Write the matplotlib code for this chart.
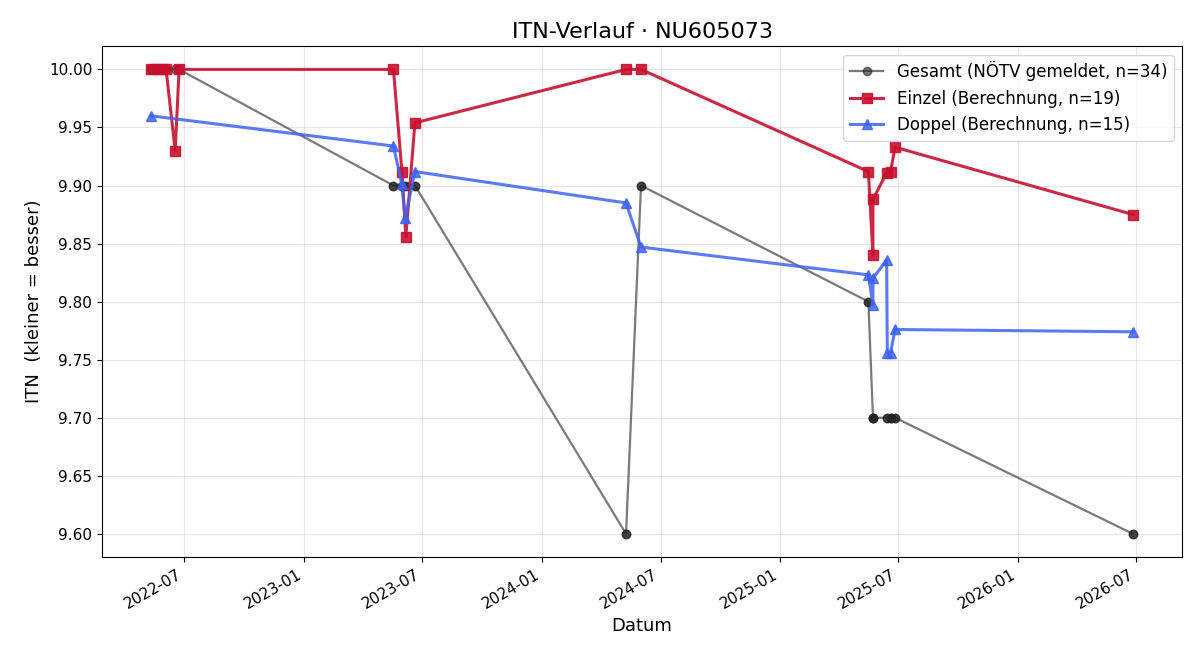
#!/usr/bin/env python3
import pandas as pd
import matplotlib
matplotlib.use("Agg")
import matplotlib.pyplot as plt
import matplotlib.dates as mdates

# Gesamt (NÖTV gemeldet) – alle Spieltermine
gesamt_dates = [
    "2022-05-11", "2022-05-11", "2022-05-19", "2022-05-27", "2022-06-03", "2022-06-17", "2022-06-23",
    "2023-05-18", "2023-05-18", "2023-05-31", "2023-05-31", "2023-06-05", "2023-06-06", "2023-06-20", "2023-06-20",
    "2024-05-09", "2024-05-09", "2024-06-01", "2024-06-01",
    "2025-05-16", "2025-05-16", "2025-05-23", "2025-05-23", "2025-05-23", "2025-05-23",
    "2025-06-13", "2025-06-14", "2025-06-19", "2025-06-19", "2025-06-26", "2025-06-26",
    "2025-06-19",
    "2026-06-26", "2026-06-26",
]
gesamt_itn = [
    10.0, 10.0, 10.0, 10.0, 10.0, 10.0, 10.0,
    9.90, 9.90, 9.90, 9.90, 9.90, 9.90, 9.90, 9.90,
    9.60, 9.60, 9.90, 9.90,
    9.80, 9.80, 9.70, 9.70, 9.70, 9.70,
    9.70, 9.70, 9.70, 9.70, 9.70, 9.70,
    9.70,
    9.60, 9.60,
]

# Einzel (Berechnung)
einzel_dates = [
    "2022-05-11", "2022-05-19", "2022-05-27", "2022-06-03", "2022-06-17", "2022-06-23",
    "2023-05-18", "2023-05-31", "2023-06-06", "2023-06-20",
    "2024-05-09", "2024-06-01",
    "2025-05-16", "2025-05-23", "2025-05-23", "2025-06-13", "2025-06-19", "2025-06-26",
    "2026-06-26",
]
einzel_itn = [
    10.0, 10.0, 10.0, 10.0, 9.930, 10.0,
    10.0, 9.912, 9.856, 9.954,
    10.0, 10.0,
    9.912, 9.840, 9.888, 9.911, 9.912, 9.933,
    9.875,
]

# Doppel (Berechnung)
doppel_dates = [
    "2022-05-11",
    "2023-05-18", "2023-05-31", "2023-06-05", "2023-06-20",
    "2024-05-09", "2024-06-01",
    "2025-05-16", "2025-05-23", "2025-05-23", "2025-06-13", "2025-06-14", "2025-06-19", "2025-06-26",
    "2026-06-26",
]
doppel_itn = [
    9.960,
    9.934, 9.901, 9.872, 9.912,
    9.885, 9.847,
    9.823, 9.797, 9.820, 9.836, 9.756, 9.756, 9.776,
    9.774,
]


def main():
    order = sorted(range(len(gesamt_dates)), key=lambda i: gesamt_dates[i])
    g = pd.to_datetime([gesamt_dates[i] for i in order])
    g_itn = [gesamt_itn[i] for i in order]
    e = pd.to_datetime(einzel_dates)
    d = pd.to_datetime(doppel_dates)

    fig, ax = plt.subplots(figsize=(12, 6.6), dpi=100)
    ax.plot(g, g_itn, "-o", color="#222222", alpha=0.6, lw=1.6, ms=6,
            label=f"Gesamt (NÖTV gemeldet, n={len(gesamt_itn)})")
    ax.plot(e, einzel_itn, "-s", color="#c8102e", alpha=0.9, lw=2.2, ms=7,
            label=f"Einzel (Berechnung, n={len(einzel_itn)})")
    ax.plot(d, doppel_itn, "-^", color="#3d63f5", alpha=0.85, lw=2.2, ms=7,
            label=f"Doppel (Berechnung, n={len(doppel_itn)})")

    ax.xaxis.set_major_locator(mdates.MonthLocator(bymonth=[1, 7]))
    ax.xaxis.set_major_formatter(mdates.DateFormatter("%Y-%m"))
    fig.autofmt_xdate()

    ax.set_title("ITN-Verlauf · NU605073", fontsize=16)
    ax.set_xlabel("Datum", fontsize=13)
    ax.set_ylabel("ITN  (kleiner = besser)", fontsize=13)
    ax.tick_params(labelsize=11)
    ax.grid(True, alpha=0.3)
    ax.legend(loc="upper right", fontsize=12)

    fig.subplots_adjust(left=0.085, right=0.985, top=0.93, bottom=0.156)
    fig.savefig("out.png", dpi=100)
    plt.close(fig)


if __name__ == "__main__":
    main()
